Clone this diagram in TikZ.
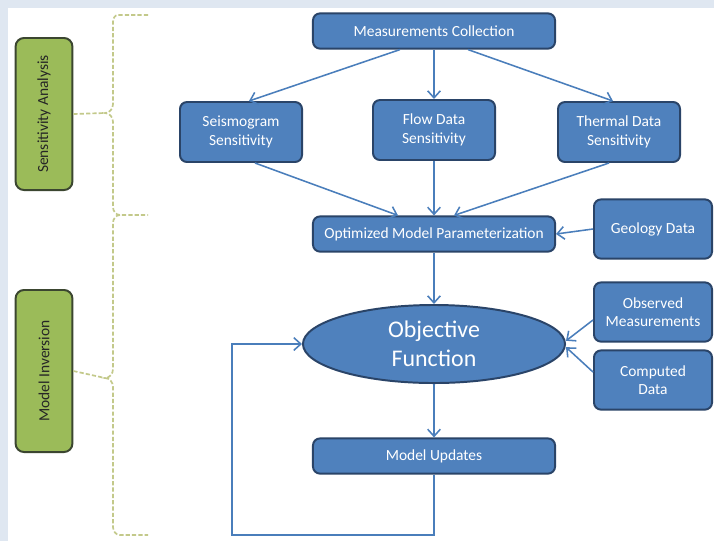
\documentclass[tikz,border=0pt]{standalone}
\usepackage{fontspec}
\setmainfont{Carlito}
\usetikzlibrary{shapes.geometric,arrows.meta}
\definecolor{boxblue}{HTML}{4F81BD}
\definecolor{boxedge}{HTML}{2A4468}
\definecolor{arrowblue}{HTML}{4A7EBB}
\definecolor{sagegreen}{HTML}{9BBB59}
\definecolor{sageedge}{HTML}{3B4630}
\definecolor{bracegreen}{HTML}{C3C98A}
\definecolor{pageblue}{HTML}{DFE7F1}
\tikzset{
    bluebox/.style={
            draw=boxedge, fill=boxblue, line width=1.4pt, rounded corners=5pt,
            text=white, align=center, font=\fontsize{11}{13}\selectfont
        },
    widebox/.style={bluebox, minimum width=6.05cm, minimum height=0.88cm},
    sensbox/.style={bluebox, minimum width=3.05cm, minimum height=1.5cm},
    sidebox/.style={bluebox, minimum width=2.95cm, minimum height=1.48cm},
    phasebox/.style={
            draw=sageedge, fill=sagegreen, line width=1.4pt, rounded corners=6pt,
            text=black!85, rotate=90, minimum height=1.42cm,
            font=\fontsize{11}{13}\selectfont
        },
    flow/.style={draw=arrowblue, line width=1.1pt},
    bracket/.style={draw=bracegreen, line width=1.2pt, dash pattern=on 3pt off 1.5pt}
}

\begin{document}
\begin{tikzpicture}[x=0.025cm, y=-0.025cm, >={Straight Barb[length=5pt,width=9pt]}]
        %page background
        \fill[pageblue] (0, 0) rectangle (714, 541);
        \fill[white] (8, 8) rectangle (714, 541);
        \useasboundingbox (0, 0) rectangle (714, 541);
        %phase labels
        \node[phasebox, minimum width=3.8cm] (sens) at (44, 114) {Sensitivity Analysis};
        \node[phasebox, minimum width=4.05cm] (minv) at (44, 371) {Model Inversion};
        %braces
        \draw[bracket] (148, 15) -- (118, 15) to[out=180, in=90] (113, 22) -- (113, 104)
            to[out=-90, in=0] (105, 113) to[out=0, in=90] (113, 122) -- (113, 207)
            to[out=-90, in=180] (120, 215) -- (148, 215);
        \draw[bracket] (120, 215) to[out=180, in=90] (113, 223) -- (113, 369)
            to[out=-90, in=0] (105, 378) to[out=0, in=90] (113, 387) -- (113, 527)
            to[out=-90, in=180] (120, 535) -- (148, 535);
        \coordinate (senstip) at (105, 113);
        \coordinate (minvtip) at (105, 378);
        \draw[bracket] (sens.south) -- (senstip);
        \draw[bracket] (minv.south) -- (minvtip);
        %sensitivity nodes
        \node[widebox] (mcoll) at (434, 31) {Measurements Collection};
        \node[sensbox] (seis) at (241, 132) {Seismogram\\Sensitivity};
        \node[sensbox] (flowsens) at (434, 130) {Flow Data\\Sensitivity};
        \node[sensbox] (therm) at (619, 132) {Thermal Data\\Sensitivity};
        \node[widebox] (optim) at (434, 234) {Optimized Model Parameterization};
        \node[sidebox] (geol) at (653, 229) {Geology Data};
        %inversion nodes
        \node[ellipse, draw=boxedge, fill=boxblue, line width=1.4pt, text=white,
            align=center, minimum width=6.55cm, minimum height=1.95cm, inner sep=1pt,
            font=\fontsize{17}{21}\selectfont] (objfn) at (434, 344) {Objective\\Function};
        \node[sidebox] (obsmeas) at (653, 312) {Observed\\Measurements};
        \node[sidebox] (compdata) at (653, 380) {Computed\\Data};
        \node[widebox] (modupd) at (434, 456) {Model Updates};
        \coordinate (loopcorner) at (232, 535);
        %connectors
        \draw[flow, ->] ([xshift=-0.85cm]mcoll.south) -- ([xshift=0.2cm]seis.north);
        \draw[flow, ->] (mcoll.south) -- (flowsens.north);
        \draw[flow, ->] ([xshift=0.85cm]mcoll.south) -- ([xshift=-0.15cm]therm.north);
        \draw[flow, ->] ([xshift=0.35cm]seis.south) -- ([xshift=-0.9cm]optim.north);
        \draw[flow, ->] (flowsens.south) -- (optim.north);
        \draw[flow, ->] ([xshift=-0.25cm]therm.south) -- ([xshift=0.5cm]optim.north);
        \draw[flow, ->] (geol.west) -- (optim.east);
        \draw[flow, ->] (optim.south) -- (objfn.north);
        \draw[flow, ->] ([yshift=-0.2cm]obsmeas.west) -- ([yshift=0.08cm]objfn.east);
        \draw[flow, ->] ([yshift=0.2cm]compdata.west) -- ([yshift=-0.08cm]objfn.east);
        \draw[flow, ->] (objfn.south) -- (modupd.north);
        \draw[flow, ->] (modupd.south) |- (loopcorner) |- (objfn.west);
    \end{tikzpicture}
\end{document}
